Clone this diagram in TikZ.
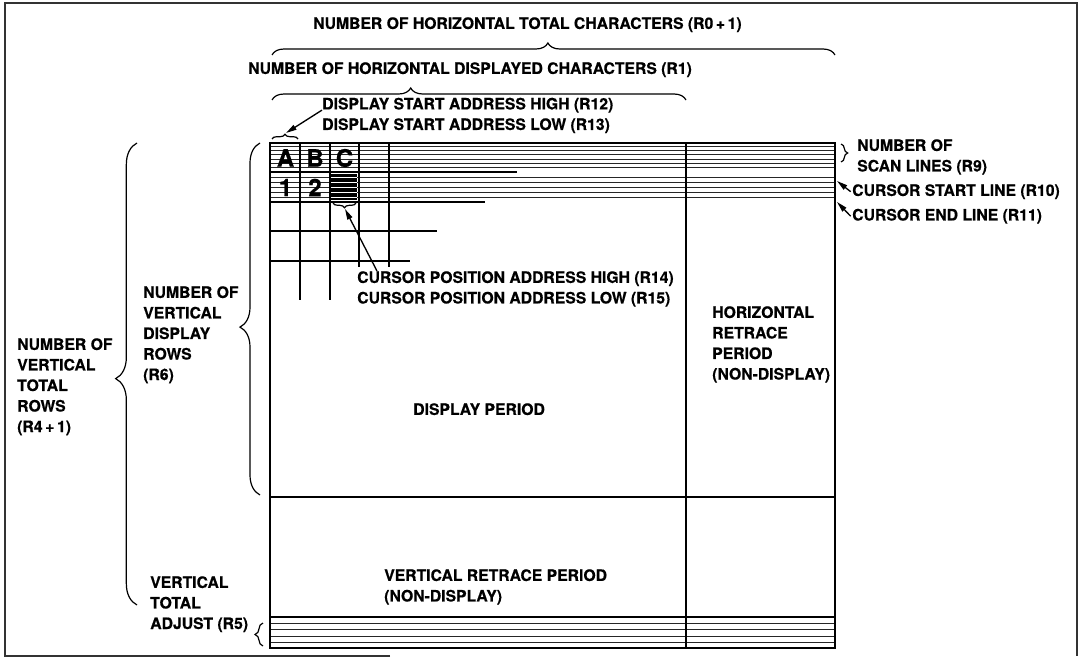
\documentclass[tikz,border=0pt]{standalone}
\usepackage{fontspec}
\setmainfont{TeX Gyre Heros}[BoldFeatures={FakeBold=0.6}]
\usetikzlibrary{arrows.meta,positioning,decorations.pathreplacing}
\tikzset{lbl/.style={font=\bfseries\fontsize{11.8}{15.4}\selectfont,align=left,inner sep=0pt,anchor=north west},chr/.style={font=\bfseries\fontsize{18}{18}\selectfont,inner sep=0pt},brc/.style={decorate,decoration={brace,amplitude=#1},line width=0.9pt},brc/.default=6pt,scan/.style={line width=0.45pt,black!85},gridln/.style={line width=1pt},frm/.style={line width=1.6pt},divln/.style={line width=1.2pt},arr/.style={-{Triangle[length=8pt,width=4pt]},line width=1pt}}

\begin{document}
\begin{tikzpicture}[x=0.75pt,y=-0.75pt]
\useasboundingbox (0,0) rectangle (1080,660);
\draw[line width=1pt,black!80] (390,656) -- (5,656) -- (5,3) -- (1077,3) -- (1077,656);
\foreach \y in {146,150,154,159,163,167,177,182,187,192,197} \draw[scan] (270,\y) -- (835,\y);
\foreach \y in {623,629,636,642} \draw[scan] (270,\y) -- (835,\y);
\node[chr] (ca) at (285.5,158) {A};\node[chr] (cb) at (315,158) {B};\node[chr] (cc) at (344.5,158) {C};
\node[chr] (c1) at (285.5,187.5) {1};\node[chr] (c2) at (315,187.5) {2};
\fill (331,174) rectangle (357,200);
\foreach \y in {177,182,187,192,197} \draw[white,line width=0.25pt] (331,\y) -- (357,\y);
\draw[gridln] (270,172) -- (517,172);\draw[gridln] (270,202) -- (485,202);\draw[gridln] (270,231) -- (437,231);\draw[gridln] (270,261) -- (410,261);
\draw[gridln] (300,143) -- (300,300);\draw[gridln] (330,143) -- (330,300);\draw[gridln] (359,143) -- (359,267);\draw[gridln] (389,143) -- (389,267);
\draw[divln] (686,143) -- (686,648);\draw[divln] (270,497) -- (835,497);\draw[divln] (270,617) -- (835,617);
\draw[frm] (270,143) rectangle (835,648);
\draw[brc=9pt,decoration={aspect=0.49}] (272,55) -- (835,55);
\draw[brc=9pt,decoration={aspect=0.335}] (272,100) -- (686,100);
\draw[brc=16pt,decoration={aspect=0.49}] (137,605) -- (137,143);
\draw[brc=15pt,decoration={aspect=0.477}] (260,495) -- (260,143);
\draw[brc=6pt] (263,646) -- (263,623);
\draw[brc=5pt] (841,144) -- (841,162);
\draw[brc=3.5pt] (272,139) -- (298,139);
\draw[brc=3.5pt] (356,203) -- (333,203);
\node[lbl] (htot) at (313,17) {NUMBER OF HORIZONTAL TOTAL CHARACTERS (R0\,+\,1)};
\node[lbl] (hdisp) at (248,62) {NUMBER OF HORIZONTAL DISPLAYED CHARACTERS (R1)};
\node[lbl] (dsa) at (322,97.5) {DISPLAY START ADDRESS HIGH (R12)\\DISPLAY START ADDRESS LOW (R13)};
\node[lbl] (cpa) at (357,271) {CURSOR POSITION ADDRESS HIGH (R14)\\CURSOR POSITION ADDRESS LOW (R15)};
\node[lbl] (nsl) at (857,139) {NUMBER OF\\SCAN LINES (R9)};
\node[lbl] (csl) at (852,184) {CURSOR START LINE (R10)};
\node[lbl,below=6.9pt of csl.south west,anchor=north west] (cel) {CURSOR END LINE (R11)};
\node[lbl] (vdr) at (143,286) {NUMBER OF\\VERTICAL\\DISPLAY\\ROWS\\(R6)};
\node[lbl] (vtr) at (17,338) {NUMBER OF\\VERTICAL\\TOTAL\\ROWS\\(R4\,+\,1)};
\node[lbl] (hrp) at (712,306) {HORIZONTAL\\RETRACE\\PERIOD\\(NON-DISPLAY)};
\node[lbl] (dpp) at (413,403) {DISPLAY PERIOD};
\node[lbl] (vrp) at (384,569) {VERTICAL RETRACE PERIOD\\(NON-DISPLAY)};
\node[lbl] (vta) at (150,576) {VERTICAL\\TOTAL\\ADJUST (R5)};
\coordinate (dsatip) at (286,133);\coordinate (curtip) at (345,209);\coordinate (cstip) at (837,181);\coordinate (cetip) at (837,202);
\draw[arr] ([yshift=4pt]dsa.west) -- (dsatip);
\draw[arr] ([xshift=15pt]cpa.north west) -- (curtip);
\draw[arr] ([xshift=-1pt]csl.west) -- (cstip);\draw[arr] ([xshift=-1pt]cel.west) -- (cetip);
\end{tikzpicture}
\end{document}
